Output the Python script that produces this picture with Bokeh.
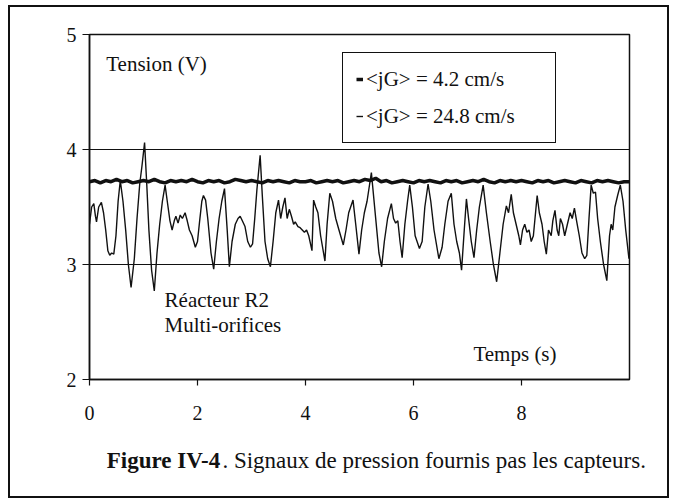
from bokeh.plotting import figure
from bokeh.models import Range1d, FixedTicker, Label, Legend, LegendItem
from bokeh.embed import file_html
from bokeh.resources import INLINE

# ---------------- data ----------------
series_labels = ["<jG> = 4.2 cm/s", "<jG> = 24.8 cm/s"]
x_ticks = [0, 2, 4, 6, 8]
y_ticks = [2, 3, 4, 5]
grid_values = [3, 4]

# <jG> = 4.2 cm/s : nearly flat signal
t_low = [0.0, 0.1, 0.2, 0.3, 0.4, 0.5, 0.6, 0.7, 0.8, 0.9,
         1.0, 1.1, 1.2, 1.3, 1.4, 1.5, 1.6, 1.7, 1.8, 1.9,
         2.0, 2.1, 2.2, 2.3, 2.4, 2.5, 2.6, 2.7, 2.8, 2.9,
         3.0, 3.1, 3.2, 3.3, 3.4, 3.5, 3.6, 3.7, 3.8, 3.9,
         4.0, 4.1, 4.2, 4.3, 4.4, 4.5, 4.6, 4.7, 4.8, 4.9,
         5.0, 5.1, 5.2, 5.3, 5.4, 5.5, 5.6, 5.7, 5.8, 5.9,
         6.0, 6.1, 6.2, 6.3, 6.4, 6.5, 6.6, 6.7, 6.8, 6.9,
         7.0, 7.1, 7.2, 7.3, 7.4, 7.5, 7.6, 7.7, 7.8, 7.9,
         8.0, 8.1, 8.2, 8.3, 8.4, 8.5, 8.6, 8.7, 8.8, 8.9,
         9.0, 9.1, 9.2, 9.3, 9.4, 9.5, 9.6, 9.7, 9.8, 9.9, 10.0]
v_low = [3.72, 3.73, 3.71, 3.73, 3.72, 3.74, 3.72, 3.73, 3.71, 3.72,
         3.73, 3.72, 3.74, 3.72, 3.71, 3.73, 3.72, 3.73, 3.72, 3.74,
         3.72, 3.71, 3.73, 3.72, 3.73, 3.71, 3.72, 3.74, 3.73, 3.72,
         3.73, 3.72, 3.71, 3.73, 3.72, 3.73, 3.72, 3.71, 3.73, 3.72,
         3.72, 3.73, 3.71, 3.72, 3.73, 3.72, 3.73, 3.71, 3.72, 3.73,
         3.72, 3.74, 3.73, 3.75, 3.72, 3.73, 3.71, 3.72, 3.73, 3.72,
         3.71, 3.73, 3.72, 3.73, 3.72, 3.71, 3.73, 3.72, 3.73, 3.71,
         3.72, 3.73, 3.72, 3.74, 3.72, 3.71, 3.73, 3.72, 3.73, 3.72,
         3.73, 3.72, 3.71, 3.73, 3.72, 3.73, 3.71, 3.72, 3.73, 3.72,
         3.71, 3.73, 3.72, 3.71, 3.73, 3.72, 3.73, 3.72, 3.71, 3.72, 3.72]

# <jG> = 24.8 cm/s : strongly fluctuating signal
t_high = [0.00, 0.04, 0.08, 0.11, 0.13, 0.17, 0.22, 0.26, 0.30, 0.34,
          0.375, 0.41, 0.45, 0.49, 0.53, 0.57, 0.62, 0.67, 0.72, 0.77,
          0.83, 0.88, 0.93, 0.97, 1.02, 1.06, 1.10, 1.15, 1.20, 1.25,
          1.30, 1.35, 1.40, 1.44, 1.49, 1.53, 1.57, 1.60, 1.64, 1.68,
          1.72, 1.77, 1.81, 1.85, 1.90, 1.96, 2.00, 2.04, 2.08, 2.11,
          2.15, 2.19, 2.25, 2.30, 2.35, 2.40, 2.45, 2.50, 2.55, 2.59,
          2.64, 2.70, 2.75, 2.79, 2.83, 2.88, 2.93, 2.98, 3.02, 3.06,
          3.10, 3.16, 3.20, 3.25, 3.30, 3.35, 3.40, 3.45, 3.50, 3.54,
          3.58, 3.62, 3.66, 3.70, 3.74, 3.78, 3.81, 3.86, 3.90, 3.94,
          3.98, 4.02, 4.06, 4.12, 4.15, 4.19, 4.23, 4.28, 4.36, 4.40,
          4.45, 4.50, 4.56, 4.62, 4.70, 4.75, 4.80, 4.88, 4.93, 4.99,
          5.04, 5.09, 5.14, 5.22, 5.30, 5.36, 5.41, 5.46, 5.52, 5.59,
          5.63, 5.67, 5.71, 5.75, 5.79, 5.84, 5.89, 5.93, 5.98, 6.03,
          6.11, 6.16, 6.21, 6.27, 6.32, 6.38, 6.47, 6.53, 6.58, 6.64,
          6.70, 6.75, 6.80, 6.85, 6.89, 6.94, 6.98, 7.02, 7.07, 7.12,
          7.17, 7.22, 7.29, 7.35, 7.42, 7.48, 7.54, 7.60, 7.66, 7.72,
          7.76, 7.81, 7.85, 7.90, 7.95, 7.98, 8.02, 8.06, 8.10, 8.14,
          8.18, 8.22, 8.26, 8.29, 8.33, 8.38, 8.42, 8.46, 8.50, 8.55,
          8.58, 8.62, 8.66, 8.69, 8.72, 8.76, 8.80, 8.85, 8.90, 8.94,
          8.98, 9.02, 9.07, 9.12, 9.17, 9.21, 9.25, 9.29, 9.33, 9.37,
          9.41, 9.46, 9.52, 9.58, 9.63, 9.66, 9.69, 9.73, 9.78, 9.83,
          9.88, 9.93, 9.99]
v_high = [3.35, 3.50, 3.53, 3.42, 3.37, 3.50, 3.54, 3.45, 3.30, 3.12,
          3.08, 3.10, 3.09, 3.25, 3.55, 3.73, 3.55, 3.30, 3.00, 2.80,
          3.05, 3.40, 3.70, 3.85, 4.06, 3.70, 3.30, 2.95, 2.77, 3.10,
          3.35, 3.55, 3.69, 3.55, 3.38, 3.30, 3.38, 3.42, 3.36, 3.43,
          3.40, 3.45, 3.38, 3.30, 3.25, 3.15, 3.20, 3.38, 3.55, 3.60,
          3.56, 3.40, 3.10, 2.96, 3.20, 3.40, 3.55, 3.66, 3.30, 2.98,
          3.20, 3.35, 3.40, 3.42, 3.38, 3.33, 3.20, 3.15, 3.18, 3.40,
          3.65, 3.95, 3.60, 3.20, 3.05, 2.98, 3.20, 3.45, 3.56, 3.40,
          3.50, 3.58, 3.40, 3.48, 3.42, 3.35, 3.37, 3.33, 3.32, 3.30,
          3.28, 3.30, 3.25, 3.12, 3.56, 3.50, 3.45, 3.25, 3.03, 3.35,
          3.62, 3.55, 3.40, 3.30, 3.17, 3.30, 3.45, 3.56, 3.35, 3.09,
          3.30, 3.45, 3.55, 3.80, 3.40, 3.10, 2.98, 3.20, 3.40, 3.53,
          3.40, 3.36, 3.38, 3.20, 3.06, 3.35, 3.55, 3.69, 3.50, 3.25,
          3.14, 3.20, 3.50, 3.70, 3.55, 3.30, 3.05, 3.15, 3.35, 3.55,
          3.62, 3.35, 3.20, 3.10, 2.95, 3.30, 3.57, 3.40, 3.20, 3.06,
          3.30, 3.50, 3.69, 3.45, 3.20, 3.00, 2.85, 3.10, 3.35, 3.51,
          3.45, 3.61, 3.45, 3.35, 3.25, 3.17, 3.30, 3.35, 3.28, 3.30,
          3.20, 3.25, 3.45, 3.60, 3.45, 3.35, 3.20, 3.09, 3.30, 3.25,
          3.38, 3.47, 3.30, 3.25, 3.40, 3.35, 3.25, 3.35, 3.45, 3.40,
          3.49, 3.38, 3.25, 3.10, 3.05, 3.08, 3.40, 3.69, 3.62, 3.63,
          3.40, 3.20, 3.00, 2.86, 3.25, 3.35, 3.30, 3.50, 3.60, 3.69,
          3.55, 3.30, 3.05]

# ---------------- styling / layout ----------------
FONT = "Liberation Serif"
INK = "#111111"

# figure box: page x 10..667, y 7..496; the outer frame is a CSS outline just outside it
p = figure(width=657, height=489, output_backend="svg", toolbar_location=None,
           x_range=Range1d(0, 10), y_range=Range1d(2, 5),
           min_border_left=79, min_border_right=38,
           min_border_top=27, min_border_bottom=117,
           margin=(7, 0, 0, 10),
           stylesheets=[":host { outline: 2px solid #111111; outline-offset: 0px; }"])
p.background_fill_color = "white"
p.border_fill_color = "white"
p.outline_line_color = INK
p.outline_line_width = 1.5

p.xgrid.visible = False
p.ygrid.ticker = FixedTicker(ticks=grid_values)
p.ygrid.grid_line_color = INK
p.ygrid.grid_line_width = 1

for ax, ticks, tout, stand in ((p.xaxis[0], x_ticks, 6, 20), (p.yaxis[0], y_ticks, 7, 6)):
    ax.ticker = FixedTicker(ticks=ticks)
    ax.axis_line_color = INK
    ax.axis_line_width = 1.5
    ax.major_tick_line_color = INK
    ax.major_tick_line_width = 1.2
    ax.major_tick_in = 0
    ax.major_tick_out = tout
    ax.minor_tick_line_color = None
    ax.major_label_text_font = FONT
    ax.major_label_text_font_size = "20px"
    ax.major_label_text_color = INK
    ax.major_label_standoff = stand

r_low = p.line(t_low, v_low, line_color=INK, line_width=3.5)
r_high = p.line(t_high, v_high, line_color=INK, line_width=1.4)

legend = Legend(items=[LegendItem(label=series_labels[0], renderers=[r_low]),
                       LegendItem(label=series_labels[1], renderers=[r_high])],
                location=(253, 236), margin=0, padding=13, spacing=11,
                glyph_width=7, glyph_height=26, label_height=26, label_width=176,
                label_standoff=3, label_text_font=FONT, label_text_font_size="21px",
                label_text_color=INK, border_line_color=INK, border_line_width=1.5,
                border_line_alpha=1, background_fill_color="white",
                background_fill_alpha=1)
p.add_layout(legend)


def make_text(x, y, text, size="21px", style="normal", x_offset=0):
    return Label(x=x, y=y, text=text, text_font=FONT, text_font_size=size,
                 text_font_style=style, text_color=INK, text_baseline="middle",
                 x_offset=x_offset)


p.add_layout(make_text(0.31, 4.74, "Tension (V)"))
p.add_layout(make_text(1.39, 2.687, "Réacteur R2"))
p.add_layout(make_text(1.39, 2.47, "Multi-orifices"))
p.add_layout(make_text(7.11, 2.226, "Temps (s)"))

# caption below the chart (placed in the bottom side panel so it is not clipped)
p.add_layout(make_text(0.32, 1.30, "Figure IV-4", size="23px", style="bold"), "below")
p.add_layout(make_text(0.32, 1.30, ". Signaux de pression fournis pas les capteurs.",
                       size="23px", x_offset=115.6), "below")

open("out.html", "w").write(file_html(p, INLINE))
